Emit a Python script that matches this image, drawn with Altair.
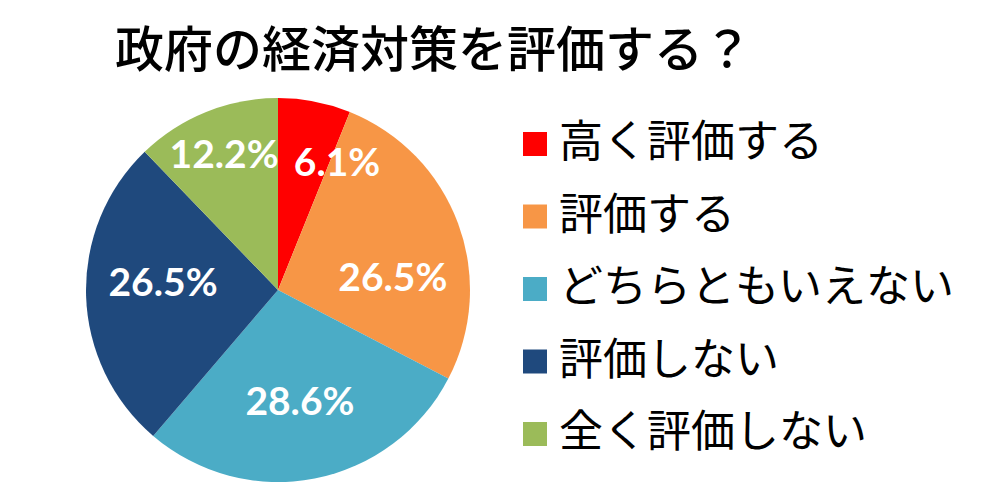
import altair as alt
import pandas as pd

categories = ["高く評価する", "評価する", "どちらともいえない", "評価しない", "全く評価しない"]
values = [6.1, 26.5, 28.6, 26.5, 12.2]
labels = ["6.1%", "26.5%", "28.6%", "26.5%", "12.2%"]
colors = ["#FF0000", "#F79646", "#4BACC6", "#1F497D", "#9BBB59"]

df = pd.DataFrame({
    "category": categories,
    "value": values,
    "label": labels,
    "order": list(range(len(categories))),
})

JP = "Noto Sans CJK JP"
CX, CY = 270, 206

base = alt.Chart(df).encode(
    theta=alt.Theta("value:Q", stack=True),
    order=alt.Order("order:Q"),
)

pie = base.mark_arc(outerRadius=192).encode(
    x=alt.value(CX),
    y=alt.value(CY),
    color=alt.Color(
        "category:N",
        scale=alt.Scale(domain=categories, range=colors),
        legend=alt.Legend(
            orient="none",
            legendX=505,
            legendY=38,
            title=None,
            symbolType="square",
            symbolSize=576,
            symbolStrokeWidth=0,
            symbolOpacity=1,
            labelFontSize=44,
            labelFont=JP,
            labelColor="black",
            labelOffset=2,
            rowPadding=28.5,
            labelLimit=600,
        ),
    ),
)


def label_layer(idx, radius, dx=0, dy=0):
    return base.transform_calculate(
        t=f"datum.order == {idx} ? datum.label : ''"
    ).mark_text(
        radius=radius, font="Lato", fontWeight="bold", fontSize=39,
        color="white", dx=dx, dy=dy,
    ).encode(x=alt.value(CX), y=alt.value(CY), text="t:N")


texts = [
    label_layer(0, 142, dx=32, dy=13),
    label_layer(1, 115, dx=7, dy=29),
    label_layer(2, 115),
    label_layer(3, 115, dy=-9),
    label_layer(4, 144),
]

chart = alt.layer(pie, *texts).properties(
    width=986,
    height=408,
    padding={"left": 0, "top": 76, "right": 0, "bottom": 0},
    autosize="none",
    title=alt.Title(
        "政府の経済対策を評価する？",
        anchor="start",
        dx=107,
        offset=7,
        fontSize=49,
        font=JP,
        fontWeight=500,
        color="black",
    ),
).configure_view(stroke=None)

chart.save("out.html", embed_options={"renderer": "svg", "actions": False})
